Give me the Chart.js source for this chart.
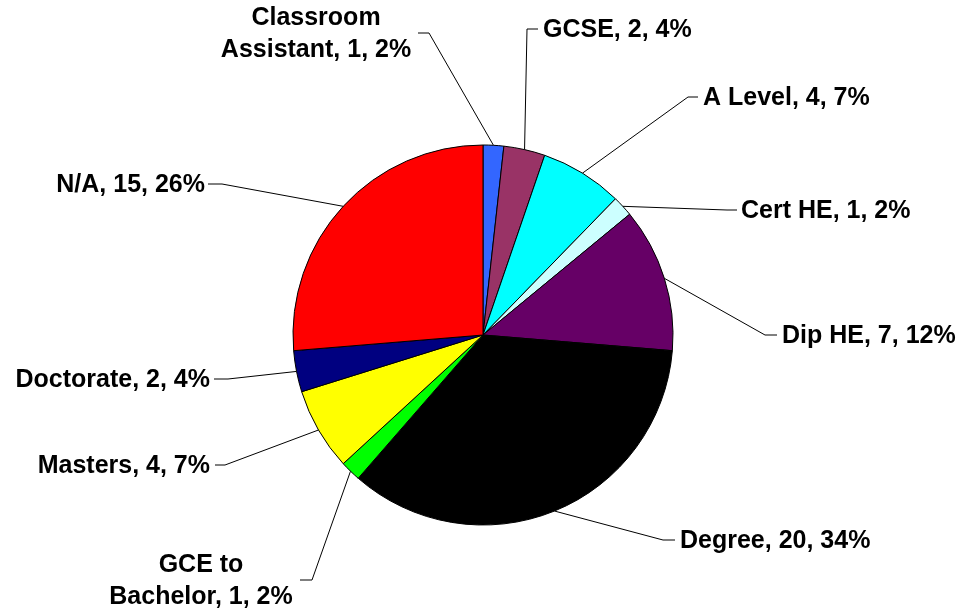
<!DOCTYPE html>
<html>
<head>
<meta charset="utf-8">
<script src="https://cdn.jsdelivr.net/npm/chart.js@4.4.0/dist/chart.umd.min.js"></script>
<style>
  html, body { margin: 0; padding: 0; background: #ffffff; }
  #wrap { width: 965px; height: 614px; }
</style>
</head>
<body>
<div id="wrap"><canvas id="c" width="965" height="614"></canvas></div>
<script>
// ---- Data ----
const categories = ["Classroom Assistant", "GCSE", "A Level", "Cert HE", "Dip HE",
                    "Degree", "GCE to Bachelor", "Masters", "Doctorate", "N/A"];
const counts = [1, 2, 4, 1, 7, 20, 1, 4, 2, 15];
const percentLabels = [2, 4, 7, 2, 12, 34, 2, 7, 4, 26];
const sliceColors = ["#3366FF", "#993366", "#00FFFF", "#CCFFFF", "#660066",
                     "#000000", "#00FF00", "#FFFF00", "#000080", "#FF0000"];

// ---- Label placement (offsets from pie centre, px) ----
// elbow: where leader bends; hx: end of short horizontal; tx: text anchor x; align; wrap
const labelLayout = [
  { ex: -54,  ey: -302, hx: -65,  tx: -167, align: "center", wrap: true },
  { ex: 44,   ey: -306, hx: 55,   tx: 60,   align: "left" },
  { ex: 205,  ey: -238, hx: 215,  tx: 220,  align: "left" },
  { ex: 244,  ey: -125, hx: 254,  tx: 258,  align: "left" },
  { ex: 282,  ey: 0,    hx: 294,  tx: 299,  align: "left" },
  { ex: 180,  ey: 205,  hx: 192,  tx: 197,  align: "left" },
  { ex: -171, ey: 245,  hx: -183, tx: -282, align: "center", wrap: true },
  { ex: -258, ey: 130,  hx: -268, tx: -273, align: "right" },
  { ex: -255, ey: 44,   hx: -269, tx: -273, align: "right" },
  { ex: -261, ey: -151, hx: -275, tx: -278, align: "right" }
];

const FONT = "bold 25px 'Liberation Sans', Arial, sans-serif";
const LINE_H = 32;

const leaderLabels = {
  id: "leaderLabels",
  afterDatasetsDraw(chart) {
    const ctx = chart.ctx;
    const meta = chart.getDatasetMeta(0);
    ctx.save();
    ctx.font = FONT;
    ctx.fillStyle = "#000000";
    ctx.strokeStyle = "#000000";
    ctx.lineWidth = 1;
    meta.data.forEach((arc, i) => {
      const p = arc.getProps(["x", "y", "startAngle", "endAngle", "outerRadius"], true);
      const mid = (p.startAngle + p.endAngle) / 2;
      const sx = p.x + p.outerRadius * Math.cos(mid);
      const sy = p.y + p.outerRadius * Math.sin(mid);
      const L = labelLayout[i];
      const ex = p.x + L.ex, ey = p.y + L.ey, hx = p.x + L.hx;
      ctx.beginPath();
      ctx.moveTo(sx, sy);
      ctx.lineTo(ex, ey);
      ctx.lineTo(hx, ey);
      ctx.stroke();

      const tail = ", " + counts[i] + ", " + percentLabels[i] + "%";
      let lines;
      if (L.wrap) {
        const name = categories[i];
        const k = name.lastIndexOf(" ");
        lines = [name.slice(0, k), name.slice(k + 1) + tail];
      } else {
        lines = [categories[i] + tail];
      }
      ctx.textAlign = L.align;
      ctx.textBaseline = "middle";
      const tx = p.x + L.tx;
      const top = ey - (lines.length - 1) * LINE_H / 2;
      lines.forEach((ln, j) => ctx.fillText(ln, tx, top + j * LINE_H + 1));
    });
    ctx.restore();
  }
};

new Chart(document.getElementById("c"), {
  type: "pie",
  data: {
    labels: categories,
    datasets: [{
      data: counts,
      backgroundColor: sliceColors,
      borderColor: "#000000",
      borderWidth: 1
    }]
  },
  options: {
    responsive: false,
    animation: false,
    radius: 190,
    layout: { padding: { left: 100, right: 99, top: 100, bottom: 44 } },
    plugins: {
      legend: { display: false },
      tooltip: { enabled: false }
    }
  },
  plugins: [leaderLabels]
});
</script>
</body>
</html>
